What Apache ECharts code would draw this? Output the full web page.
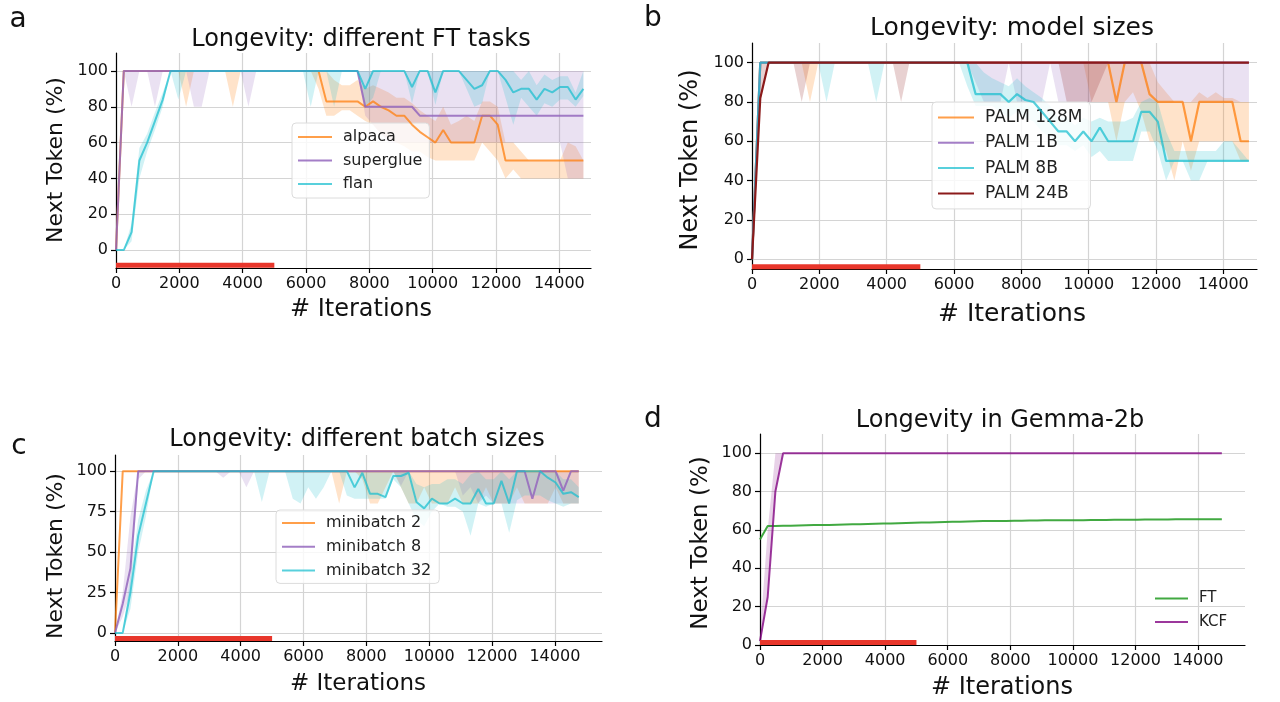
<!DOCTYPE html>
<html>
<head>
<meta charset="utf-8">
<title>Longevity</title>
<script src="https://cdn.jsdelivr.net/npm/echarts@6/dist/echarts.min.js"></script>
<style>
  html, body { margin: 0; padding: 0; background: #fff; }
  #chart { width: 1280px; height: 702px; }
</style>
</head>
<body>
<div id="chart"></div>
<script>
// shared x values (training iterations)
const iterations = [0, 246, 492, 738, 984, 1230, 1476, 1722, 1968, 2214, 2460, 2706, 2952, 3198, 3444, 3690, 3936, 4182, 4428, 4674, 4920, 5166, 5412, 5658, 5904, 6150, 6396, 6642, 6888, 7134, 7380, 7626, 7872, 8118, 8364, 8610, 8856, 9102, 9348, 9594, 9840, 10086, 10332, 10578, 10824, 11070, 11316, 11562, 11808, 12054, 12300, 12546, 12792, 13038, 13284, 13530, 13776, 14022, 14268, 14514, 14760];
const ftWindow = [0, 5000];
const xTicks = [0, 2000, 4000, 6000, 8000, 10000, 12000, 14000];
const yTicks20 = [0, 20, 40, 60, 80, 100];
const yTicks25 = [0, 25, 50, 75, 100];

// a: different FT tasks
const alpaca = [0, 100, 100, 100, 100, 100, 100, 100, 100, 100, 100, 100, 100, 100, 100, 100, 100, 100, 100, 100, 100, 100, 100, 100, 100, 100, 100, 83, 83, 83, 83, 83, 80, 83, 80, 78, 75, 75, 70, 66, 63, 60, 67, 60, 60, 60, 60, 75, 75, 70, 50, 50, 50, 50, 50, 50, 50, 50, 50, 50, 50];
const alpacaLo = [0, 100, 100, 100, 100, 100, 100, 100, 100, 80, 100, 100, 100, 100, 100, 80, 100, 100, 100, 100, 100, 100, 100, 100, 100, 100, 90, 75, 75, 78, 78, 75, 72, 70, 65, 62, 60, 58, 55, 55, 52, 50, 50, 50, 50, 50, 50, 60, 55, 50, 40, 45, 40, 40, 40, 40, 40, 40, 40, 40, 40];
const alpacaHi = [0, 100, 100, 100, 100, 100, 100, 100, 100, 100, 100, 100, 100, 100, 100, 100, 100, 100, 100, 100, 100, 100, 100, 100, 100, 100, 100, 100, 95, 92, 92, 95, 90, 92, 90, 88, 85, 85, 82, 78, 75, 72, 80, 70, 72, 75, 72, 83, 83, 80, 60, 60, 55, 50, 50, 50, 50, 50, 60, 58, 50];
const superglue = [0, 100, 100, 100, 100, 100, 100, 100, 100, 100, 100, 100, 100, 100, 100, 100, 100, 100, 100, 100, 100, 100, 100, 100, 100, 100, 100, 100, 100, 100, 100, 100, 80, 80, 80, 80, 80, 80, 80, 75, 75, 75, 75, 75, 75, 75, 75, 75, 75, 75, 75, 75, 75, 75, 75, 75, 75, 75, 75, 75, 75];
const superglueLo = [0, 100, 80, 100, 100, 80, 100, 100, 100, 100, 80, 80, 100, 100, 100, 100, 100, 80, 100, 100, 100, 100, 100, 100, 100, 100, 100, 100, 100, 100, 100, 100, 75, 70, 65, 60, 60, 60, 60, 60, 60, 60, 60, 60, 60, 60, 60, 60, 60, 60, 60, 60, 60, 60, 60, 60, 60, 60, 40, 40, 40];
const superglueHi = [0, 100, 100, 100, 100, 100, 100, 100, 100, 100, 100, 100, 100, 100, 100, 100, 100, 100, 100, 100, 100, 100, 100, 100, 100, 100, 100, 100, 100, 100, 100, 100, 100, 100, 100, 100, 100, 100, 100, 100, 100, 100, 100, 100, 100, 100, 100, 100, 100, 100, 100, 100, 100, 100, 100, 100, 100, 100, 100, 100, 100];
const flan = [0, 0, 10, 50, 60, 72, 84, 100, 100, 100, 100, 100, 100, 100, 100, 100, 100, 100, 100, 100, 100, 100, 100, 100, 100, 100, 100, 100, 100, 100, 100, 100, 90, 100, 100, 100, 100, 100, 91, 100, 100, 88, 100, 100, 100, 95, 90, 92, 100, 100, 95, 88, 90, 90, 84, 90, 88, 91, 91, 84, 90];
const flanLo = [0, 0, 5, 40, 55, 67, 80, 100, 84, 100, 100, 100, 100, 100, 100, 100, 100, 100, 100, 100, 100, 100, 100, 100, 100, 80, 100, 100, 80, 100, 100, 100, 80, 85, 100, 100, 100, 100, 82, 100, 100, 81, 100, 100, 100, 90, 80, 82, 100, 100, 85, 70, 85, 80, 75, 82, 80, 84, 84, 80, 86];
const flanHi = [0, 0, 15, 57, 65, 77, 88, 100, 100, 100, 100, 100, 100, 100, 100, 100, 100, 100, 100, 100, 100, 100, 100, 100, 100, 100, 100, 100, 100, 100, 100, 100, 100, 100, 100, 100, 100, 100, 100, 100, 100, 100, 100, 100, 100, 100, 100, 100, 100, 100, 100, 100, 95, 100, 92, 98, 95, 97, 97, 88, 100];

// b: model sizes
const palm128m = [0, 100, 100, 100, 100, 100, 100, 100, 100, 100, 100, 100, 100, 100, 100, 100, 100, 100, 100, 100, 100, 100, 100, 100, 100, 100, 100, 100, 100, 100, 100, 100, 100, 100, 100, 100, 100, 100, 100, 100, 100, 100, 100, 100, 80, 100, 100, 100, 84, 80, 80, 80, 80, 60, 80, 80, 80, 80, 80, 60, 60];
const palm128mLo = [0, 100, 100, 100, 100, 100, 100, 80, 100, 100, 100, 100, 100, 100, 100, 100, 100, 100, 100, 100, 100, 100, 100, 100, 100, 100, 100, 100, 100, 100, 100, 100, 100, 100, 100, 100, 100, 100, 100, 100, 100, 80, 80, 80, 60, 80, 85, 75, 60, 60, 55, 40, 60, 45, 60, 60, 60, 60, 60, 50, 50];
const palm128mHi = [0, 100, 100, 100, 100, 100, 100, 100, 100, 100, 100, 100, 100, 100, 100, 100, 100, 100, 100, 100, 100, 100, 100, 100, 100, 100, 100, 100, 100, 100, 100, 100, 100, 100, 100, 100, 100, 100, 100, 100, 100, 100, 100, 100, 100, 100, 100, 100, 100, 90, 85, 80, 80, 80, 85, 82, 85, 82, 82, 80, 80];
const palm1b = [0, 100, 100, 100, 100, 100, 100, 100, 100, 100, 100, 100, 100, 100, 100, 100, 100, 100, 100, 100, 100, 100, 100, 100, 100, 100, 100, 100, 100, 100, 100, 100, 100, 100, 100, 100, 100, 100, 100, 100, 100, 100, 100, 100, 100, 100, 100, 100, 100, 100, 100, 100, 100, 100, 100, 100, 100, 100, 100, 100, 100];
const palm1bLo = [0, 100, 100, 100, 100, 100, 100, 100, 100, 100, 100, 100, 100, 100, 100, 100, 100, 100, 100, 100, 100, 100, 100, 100, 100, 100, 100, 90, 80, 80, 80, 100, 80, 80, 80, 80, 100, 80, 80, 80, 80, 80, 80, 80, 80, 80, 80, 80, 80, 80, 80, 80, 80, 80, 80, 80, 80, 80, 80, 80, 80];
const palm1bHi = [0, 100, 100, 100, 100, 100, 100, 100, 100, 100, 100, 100, 100, 100, 100, 100, 100, 100, 100, 100, 100, 100, 100, 100, 100, 100, 100, 100, 100, 100, 100, 100, 100, 100, 100, 100, 100, 100, 100, 100, 100, 100, 100, 100, 100, 100, 100, 100, 100, 100, 100, 100, 100, 100, 100, 100, 100, 100, 100, 100, 100];
const palm8b = [0, 100, 100, 100, 100, 100, 100, 100, 100, 100, 100, 100, 100, 100, 100, 100, 100, 100, 100, 100, 100, 100, 100, 100, 100, 100, 100, 84, 84, 84, 84, 80, 84, 81, 80, 75, 70, 65, 65, 60, 65, 60, 67, 60, 60, 60, 60, 75, 75, 70, 50, 50, 50, 50, 50, 50, 50, 50, 50, 50, 50];
const palm8bLo = [0, 100, 100, 100, 100, 100, 100, 100, 100, 80, 100, 100, 100, 100, 100, 80, 100, 100, 100, 100, 100, 100, 100, 100, 100, 100, 88, 78, 78, 78, 75, 72, 75, 72, 70, 65, 62, 58, 58, 55, 58, 52, 55, 50, 50, 50, 50, 65, 65, 55, 40, 50, 50, 40, 40, 50, 50, 50, 50, 50, 50];
const palm8bHi = [0, 100, 100, 100, 100, 100, 100, 100, 100, 100, 100, 100, 100, 100, 100, 100, 100, 100, 100, 100, 100, 100, 100, 100, 100, 100, 100, 100, 95, 92, 90, 88, 92, 88, 85, 82, 78, 72, 72, 68, 72, 70, 72, 70, 70, 70, 72, 80, 82, 80, 65, 55, 55, 55, 55, 55, 55, 60, 60, 55, 50];
const palm24b = [0, 82, 100, 100, 100, 100, 100, 100, 100, 100, 100, 100, 100, 100, 100, 100, 100, 100, 100, 100, 100, 100, 100, 100, 100, 100, 100, 100, 100, 100, 100, 100, 100, 100, 100, 100, 100, 100, 100, 100, 100, 100, 100, 100, 100, 100, 100, 100, 100, 100, 100, 100, 100, 100, 100, 100, 100, 100, 100, 100, 100];
const palm24bLo = [0, 80, 100, 100, 100, 100, 80, 100, 100, 100, 100, 100, 100, 100, 100, 100, 100, 100, 80, 100, 100, 100, 100, 100, 100, 100, 100, 100, 100, 100, 100, 100, 100, 100, 100, 100, 100, 100, 80, 80, 80, 80, 90, 100, 100, 100, 100, 100, 100, 100, 100, 100, 100, 100, 100, 100, 100, 100, 100, 100, 100];
const palm24bHi = [0, 100, 100, 100, 100, 100, 100, 100, 100, 100, 100, 100, 100, 100, 100, 100, 100, 100, 100, 100, 100, 100, 100, 100, 100, 100, 100, 100, 100, 100, 100, 100, 100, 100, 100, 100, 100, 100, 100, 100, 100, 100, 100, 100, 100, 100, 100, 100, 100, 100, 100, 100, 100, 100, 100, 100, 100, 100, 100, 100, 100];

// c: batch sizes
const mb2 = [0, 100, 100, 100, 100, 100, 100, 100, 100, 100, 100, 100, 100, 100, 100, 100, 100, 100, 100, 100, 100, 100, 100, 100, 100, 100, 100, 100, 100, 100, 100, 100, 100, 100, 100, 100, 100, 100, 100, 100, 100, 100, 100, 100, 100, 100, 100, 100, 100, 100, 100, 100, 100, 100, 100, 100, 100, 100, 100, 100, 100];
const mb2Lo = [0, 100, 100, 100, 100, 100, 100, 100, 100, 100, 100, 100, 100, 100, 100, 100, 100, 100, 100, 100, 100, 100, 100, 100, 100, 100, 100, 100, 100, 80, 100, 100, 95, 80, 80, 90, 100, 90, 80, 80, 90, 80, 80, 80, 90, 80, 80, 80, 90, 80, 80, 80, 90, 80, 80, 80, 80, 90, 80, 80, 80];
const mb2Hi = [0, 100, 100, 100, 100, 100, 100, 100, 100, 100, 100, 100, 100, 100, 100, 100, 100, 100, 100, 100, 100, 100, 100, 100, 100, 100, 100, 100, 100, 100, 100, 100, 100, 100, 100, 100, 100, 100, 100, 100, 100, 100, 100, 100, 100, 100, 100, 100, 100, 100, 100, 100, 100, 100, 100, 100, 100, 100, 100, 100, 100];
const mb8 = [0, 18, 40, 100, 100, 100, 100, 100, 100, 100, 100, 100, 100, 100, 100, 100, 100, 100, 100, 100, 100, 100, 100, 100, 100, 100, 100, 100, 100, 100, 100, 100, 100, 100, 100, 100, 100, 100, 100, 100, 100, 100, 100, 100, 100, 100, 100, 100, 100, 100, 100, 100, 100, 100, 83, 100, 100, 100, 88, 100, 100];
const mb8Lo = [0, 10, 25, 95, 100, 100, 100, 100, 100, 100, 100, 100, 100, 100, 96, 100, 100, 90, 100, 100, 100, 100, 100, 100, 100, 100, 100, 100, 100, 100, 100, 100, 100, 100, 100, 100, 100, 91, 100, 100, 100, 100, 100, 100, 100, 85, 90, 80, 85, 80, 80, 80, 80, 80, 80, 80, 80, 80, 80, 80, 80];
const mb8Hi = [0, 25, 72, 100, 100, 100, 100, 100, 100, 100, 100, 100, 100, 100, 100, 100, 100, 100, 100, 100, 100, 100, 100, 100, 100, 100, 100, 100, 100, 100, 100, 100, 100, 100, 100, 100, 100, 100, 100, 100, 100, 100, 100, 100, 100, 100, 100, 100, 100, 100, 100, 100, 100, 100, 100, 100, 100, 100, 100, 100, 100];
const mb32 = [0, 0, 25, 60, 80, 100, 100, 100, 100, 100, 100, 100, 100, 100, 100, 100, 100, 100, 100, 100, 100, 100, 100, 100, 100, 100, 100, 100, 100, 100, 100, 90, 99, 86, 86, 84, 97, 97, 99, 81, 77, 83, 80, 80, 83, 80, 80, 89, 80, 80, 94, 80, 100, 100, 100, 100, 96, 93, 86, 87, 84];
const mb32Lo = [0, 0, 15, 50, 72, 100, 100, 100, 100, 100, 100, 100, 100, 100, 100, 100, 100, 100, 100, 81, 100, 100, 100, 83, 80, 90, 83, 90, 100, 100, 85, 83, 83, 83, 83, 83, 95, 90, 80, 70, 66, 75, 80, 78, 78, 75, 60, 80, 78, 80, 80, 62, 82, 85, 85, 85, 82, 80, 78, 80, 80];
const mb32Hi = [0, 0, 35, 70, 88, 100, 100, 100, 100, 100, 100, 100, 100, 100, 100, 100, 100, 100, 100, 100, 100, 100, 100, 100, 100, 100, 100, 100, 100, 100, 100, 100, 100, 100, 100, 100, 100, 100, 100, 92, 90, 92, 92, 95, 95, 92, 98, 100, 95, 95, 100, 95, 100, 100, 100, 100, 100, 100, 95, 95, 90];

// d: Gemma-2b
const gemmaFT = [55, 62, 62.1, 62.2, 62.2, 62.3, 62.4, 62.5, 62.5, 62.6, 62.7, 62.8, 62.9, 63, 63.1, 63.2, 63.3, 63.4, 63.5, 63.6, 63.7, 63.8, 63.9, 64, 64.1, 64.2, 64.3, 64.4, 64.5, 64.6, 64.6, 64.7, 64.7, 64.8, 64.8, 64.9, 64.9, 65, 65, 65, 65.1, 65.1, 65.1, 65.2, 65.2, 65.2, 65.3, 65.3, 65.3, 65.3, 65.4, 65.4, 65.4, 65.4, 65.5, 65.5, 65.5, 65.5, 65.5, 65.6, 65.6];
const gemmaKCF = [2, 25, 80, 100, 100, 100, 100, 100, 100, 100, 100, 100, 100, 100, 100, 100, 100, 100, 100, 100, 100, 100, 100, 100, 100, 100, 100, 100, 100, 100, 100, 100, 100, 100, 100, 100, 100, 100, 100, 100, 100, 100, 100, 100, 100, 100, 100, 100, 100, 100, 100, 100, 100, 100, 100, 100, 100, 100, 100, 100, 100];
const gemmaKCFLo = [0, 24, 80, 100, 100, 100, 100, 100, 100, 100, 100, 100, 100, 100, 100, 100, 100, 100, 100, 100, 100, 100, 100, 100, 100, 100, 100, 100, 100, 100, 100, 100, 100, 100, 100, 100, 100, 100, 100, 100, 100, 100, 100, 100, 100, 100, 100, 100, 100, 100, 100, 100, 100, 100, 100, 100, 100, 100, 100, 100, 100];
const gemmaKCFHi = [5, 60, 100, 100, 100, 100, 100, 100, 100, 100, 100, 100, 100, 100, 100, 100, 100, 100, 100, 100, 100, 100, 100, 100, 100, 100, 100, 100, 100, 100, 100, 100, 100, 100, 100, 100, 100, 100, 100, 100, 100, 100, 100, 100, 100, 100, 100, 100, 100, 100, 100, 100, 100, 100, 100, 100, 100, 100, 100, 100, 100];

const FONT = "DejaVu Sans";
const ORANGE = "rgba(255,127,14,0.75)", ORANGE_F = "rgba(255,127,14,0.22)";
const PURPLE = "rgba(148,103,189,0.85)", PURPLE_F = "rgba(148,103,189,0.2)";
const CYAN = "rgba(23,190,207,0.72)", CYAN_F = "rgba(23,190,207,0.2)";
const DRED = "#8b1a1a", DRED_F = "rgba(139,26,26,0.2)";
const GREEN = "rgba(44,160,44,0.9)";
const MAGENTA = "rgba(128,0,128,0.78)", MAGENTA_F = "rgba(128,0,128,0.18)";
const RED = "#e8362b";

const chart = echarts.init(document.getElementById("chart"));

function xAxis(g, max) {
  return {
    gridIndex: g, type: "value", min: 0, max: max,
    axisLine: { onZero: false, lineStyle: { color: "#000", width: 1.2 } },
    axisTick: { customValues: xTicks, length: 5, lineStyle: { color: "#000", width: 1.2 } },
    axisLabel: { customValues: xTicks, formatter: v => String(v), color: "#111", fontSize: 16, fontFamily: FONT, margin: 8 },
    splitLine: { show: true, lineStyle: { color: "#d4d4d4", width: 1.2 } }
  };
}
function yAxis(g, min, max, ticks) {
  return {
    gridIndex: g, type: "value", min: min, max: max,
    axisLine: { onZero: false, lineStyle: { color: "#000", width: 1.2 } },
    axisTick: { customValues: ticks, length: 5, lineStyle: { color: "#000", width: 1.2 } },
    axisLabel: { customValues: ticks, formatter: v => String(v), color: "#111", fontSize: 16, fontFamily: FONT, margin: 8 },
    splitLine: { show: true, lineStyle: { color: "#d4d4d4", width: 1.2 } }
  };
}
function line(name, ys, color, g, w) {
  return {
    name: name, type: "line", xAxisIndex: g, yAxisIndex: g, z: 4,
    data: iterations.map((x, i) => [x, ys[i]]),
    showSymbol: false, symbol: "none", color: color,
    lineStyle: { color: color, width: w || 2 }, emphasis: { disabled: true }
  };
}
function band(lo, hi, color, g) {
  return {
    type: "custom", xAxisIndex: g, yAxisIndex: g, z: 2, silent: true,
    data: [[0, 0]],
    renderItem: function (params, api) {
      const pts = [];
      for (let i = 0; i < iterations.length; i++) pts.push(api.coord([iterations[i], hi[i]]));
      for (let i = iterations.length - 1; i >= 0; i--) pts.push(api.coord([iterations[i], lo[i]]));
      return { type: "polygon", shape: { points: pts }, style: { fill: color } };
    }
  };
}
function ftBar(g, y) {
  return {
    type: "line", xAxisIndex: g, yAxisIndex: g, z: 5, clip: false,
    data: [[ftWindow[0], y], [ftWindow[1], y]],
    showSymbol: false, symbol: "none",
    lineStyle: { color: RED, width: 5 }, emphasis: { disabled: true }
  };
}
function legend(names, left, top, fs, iw, gap, pad, box) {
  return {
    data: names, orient: "vertical", left: left, top: top,
    icon: "rect", itemWidth: iw, itemHeight: 2, itemGap: gap,
    padding: pad, selectedMode: false,
    backgroundColor: box ? "rgba(255,255,255,0.8)" : "transparent",
    borderColor: box ? "#dcdcdc" : "transparent", borderWidth: box ? 1 : 0, borderRadius: 4,
    textStyle: { fontFamily: FONT, fontSize: fs, color: "#222", lineHeight: fs, padding: [0, 0, 0, 6] }
  };
}
function txt(s, x, y, size, rot) {
  return {
    type: "text", x: x, y: y, rotation: rot || 0, z: 10,
    style: { text: s, fontFamily: FONT, fontSize: size, fill: "#111", align: "center", verticalAlign: "middle" }
  };
}

const option = {
  animation: false,
  backgroundColor: "#fff",
  grid: [
    { left: 116, top: 53, width: 475, height: 215 },
    { left: 752, top: 43, width: 505, height: 226 },
    { left: 115, top: 455, width: 487, height: 186 },
    { left: 760, top: 434, width: 485, height: 211 }
  ],
  xAxis: [xAxis(0, 15000), xAxis(1, 15000), xAxis(2, 15500), xAxis(3, 15500)],
  yAxis: [
    yAxis(0, -10, 110, yTicks20),
    yAxis(1, -5, 110, yTicks20),
    yAxis(2, -5, 110, yTicks25),
    yAxis(3, 0, 110, yTicks20)
  ],
  legend: [
    legend(["alpaca", "superglue", "flan"], 292, 123, 16, 34, 7.5, [6, 7, 6, 6], true),
    legend(["PALM 128M", "PALM 1B", "PALM 8B", "PALM 24B"], 932, 102, 17, 36, 8.3, [7, 8, 7, 6], true),
    legend(["minibatch 2", "minibatch 8", "minibatch 32"], 276, 510, 16, 33, 7.7, [5, 8, 5, 6], true),
    legend(["FT", "KCF"], 1155, 591, 15, 33, 8.4, 0, false)
  ],
  graphic: [
    txt("a", 18, 20, 28), txt("b", 653, 19, 28), txt("c", 19, 447, 28), txt("d", 653, 420, 28),
    txt("Longevity: different FT tasks", 361, 40, 24),
    txt("Longevity: model sizes", 1012, 28, 25),
    txt("Longevity: different batch sizes", 357, 440, 24),
    txt("Longevity in Gemma-2b", 1000, 421, 24),
    txt("# Iterations", 361, 310, 24), txt("# Iterations", 1012, 314, 25),
    txt("# Iterations", 358, 684, 23), txt("# Iterations", 1002, 688, 24),
    txt("Next Token (%)", 56, 160, 22, Math.PI / 2), txt("Next Token (%)", 691, 160, 24, Math.PI / 2),
    txt("Next Token (%)", 56, 556, 22, Math.PI / 2), txt("Next Token (%)", 701, 543, 23, Math.PI / 2)
  ],
  series: [
    band(alpacaLo, alpacaHi, ORANGE_F, 0),
    band(superglueLo, superglueHi, PURPLE_F, 0),
    band(flanLo, flanHi, CYAN_F, 0),
    line("alpaca", alpaca, ORANGE, 0),
    line("superglue", superglue, PURPLE, 0),
    line("flan", flan, CYAN, 0),
    ftBar(0, -8.5),

    band(palm128mLo, palm128mHi, ORANGE_F, 1),
    band(palm1bLo, palm1bHi, PURPLE_F, 1),
    band(palm8bLo, palm8bHi, CYAN_F, 1),
    band(palm24bLo, palm24bHi, DRED_F, 1),
    line("PALM 128M", palm128m, ORANGE, 1, 2.2),
    line("PALM 1B", palm1b, PURPLE, 1, 2.2),
    line("PALM 8B", palm8b, CYAN, 1, 2.2),
    line("PALM 24B", palm24b, DRED, 1, 2.2),
    ftBar(1, -3.8),

    band(mb2Lo, mb2Hi, ORANGE_F, 2),
    band(mb8Lo, mb8Hi, PURPLE_F, 2),
    band(mb32Lo, mb32Hi, CYAN_F, 2),
    line("minibatch 2", mb2, ORANGE, 2),
    line("minibatch 8", mb8, PURPLE, 2),
    line("minibatch 32", mb32, CYAN, 2),
    ftBar(2, -3.5),

    band(gemmaKCFLo, gemmaKCFHi, MAGENTA_F, 3),
    line("FT", gemmaFT, GREEN, 3),
    line("KCF", gemmaKCF, MAGENTA, 3),
    ftBar(3, 1.3)
  ]
};
chart.setOption(option);
</script>
</body>
</html>
